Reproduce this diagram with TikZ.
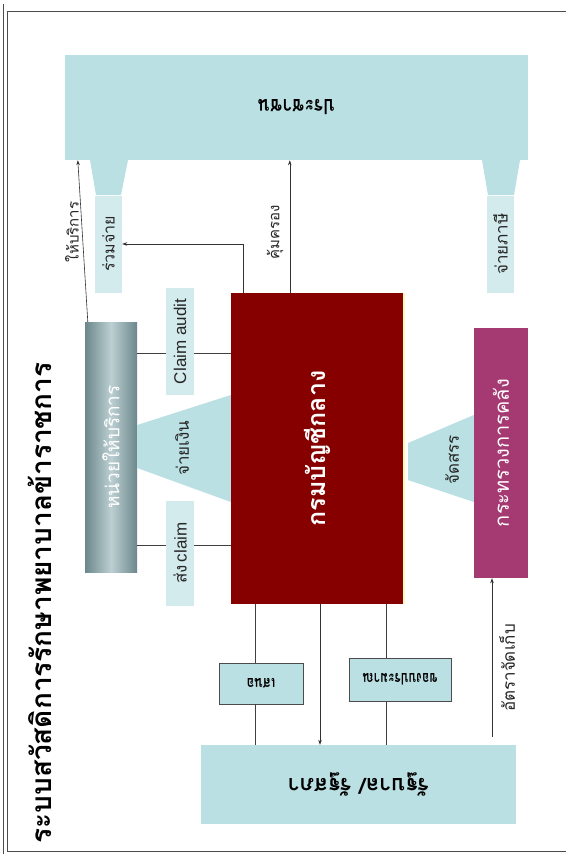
\documentclass[tikz,border=0pt]{standalone}
\usepackage{fontspec}
\setmainfont{Liberation Sans}
\newfontfamily\thai[Script=Thai]{Loma}
\usetikzlibrary{arrows.meta}
\definecolor{lb}{HTML}{BBE0E3}
\definecolor{tealbox}{HTML}{86A9AE}
\definecolor{cgdred}{HTML}{860000}
\definecolor{mofc}{HTML}{A53A73}
\newcommand\tsz[1]{\fontsize{#1}{#1}\selectfont}
\tikzset{
  arr/.style={-{Stealth[length=5pt,width=3.5pt]}, line width=0.6pt, draw=black!80},
  ln/.style={line width=0.6pt, draw=black!75},
  band/.style={fill=lb!65, inner sep=0pt, text=black!85},
  lbl/.style={text=black!85, inner sep=1pt},
  sbox/.style={draw=black!70, line width=0.8pt, fill=lb, inner sep=0pt},
  bigbox/.style={inner sep=0pt},
}
\begin{document}
\begin{tikzpicture}[x=1pt,y=-1pt]
\useasboundingbox (0,0) rectangle (566,854);
\fill[white] (0,0) rectangle (566,854);
% frame
\draw[black!70, line width=0.8pt] (3,4) -- (3,854);
\draw[black!70, line width=0.8pt] (566,11.5) -- (7.5,11.5) -- (7.5,851) -- (566,851);
% title
\node[lbl, text=black] (title) at (40,603) {\rotatebox{90}{\thai\bfseries\tsz{28}ระบบสวัสดิการรักษาพยาบาลข้าราชการ}};
% main boxes
\node[bigbox, fill=lb, minimum width=463pt, minimum height=105pt] (pub) at (296.5,107.5) {\rotatebox{180}{\scalebox{0.85}[1]{\thai\bfseries\tsz{21}ประชาชน}}};
\node[bigbox, minimum width=52pt, minimum height=250pt, left color=tealbox!80!black, right color=tealbox!80!black, middle color=tealbox!55!white, text=white] (hosp) at (111,447) {\rotatebox{90}{\thai\tsz{19}หน่วยให้บริการ}};
\node[bigbox, fill=cgdred, minimum width=173pt, minimum height=311pt, text=white] (cgd) at (317.5,448.5) {\rotatebox{90}{\thai\bfseries\tsz{25}กรมบัญชีกลาง}};
\draw[line width=2pt, draw=yellow!30] (cgd.north east) -- (cgd.south east);
\node[bigbox, fill=mofc, minimum width=54pt, minimum height=250pt, text=white] (mof) at (501,453) {\rotatebox{90}{\thai\tsz{20}กระทรวงการคลัง}};
\node[bigbox, fill=lb, minimum width=315pt, minimum height=79pt] (gov) at (358.5,784.5) {\rotatebox{180}{\thai\bfseries\tsz{22}รัฐบาล/ รัฐสภา}};
\node[sbox, minimum width=84pt, minimum height=41pt] (sm1) at (261,683.5) {\rotatebox{180}{\scalebox{0.8}[1]{\thai\bfseries\tsz{16}เสนอ}}};
\node[sbox, minimum width=102pt, minimum height=43pt] (sm2) at (400,679.5) {\rotatebox{180}{\scalebox{0.75}[1]{\thai\bfseries\tsz{16}ของบประมาณ}}};
% block arrows (pillars) under the public box
\fill[lb] (90,160) -- (128,160) -- (121,195) -- (96,195) -- cycle;
\fill[lb] (482,160) -- (520,160) -- (514,195) -- (488,195) -- cycle;
\node[band, minimum width=27pt, minimum height=97pt] (rj) at (108.5,244) {\rotatebox{90}{\thai\tsz{16}ร่วมจ่าย}};
\node[band, minimum width=27pt, minimum height=97pt] (tax) at (500.5,244) {\rotatebox{90}{\thai\tsz{17}จ่ายภาษี}};
% pay / allocate wedges
\fill[lb] (cgd.west |- 0,395) -- (cgd.west |- 0,502) -- (hosp.east |- 0,468) -- (hosp.east |- 0,425) -- cycle;
\node[lbl] (pay) at (182,448) {\rotatebox{90}{\thai\tsz{17}จ่ายเงิน}};
\fill[lb] (mof.west |- 0,415) -- (mof.west |- 0,502) -- (408,480) -- (408,443) -- cycle;
\node[lbl] (alloc) at (452,460) {\rotatebox{90}{\thai\tsz{17}จัดสรร}};
% connectors to the public
\draw[arr] ([xshift=3pt]hosp.north west) -- ([xshift=13pt]pub.south west);
\node[lbl] (serv) at (72,232) {\rotatebox{90}{\thai\tsz{15}ให้บริการ}};
\draw[arr] ([xshift=12pt]cgd.north west) |- (rj.east);
\draw[arr] ([xshift=59pt]cgd.north west) -- ([xshift=59pt]cgd.north west |- pub.south);
\node[lbl] (prot) at (275,232) {\rotatebox{90}{\thai\tsz{15}คุ้มครอง}};
% claim lines
\draw[ln] ([yshift=94pt]hosp.east) -- ([yshift=94pt]hosp.east -| cgd.west);
\draw[ln] ([yshift=-98pt]hosp.east) -- ([yshift=-98pt]hosp.east -| cgd.west);
\node[band, minimum width=28pt, minimum height=107pt] (audit) at (180,341.5) {\rotatebox{90}{\tsz{17}Claim audit}};
\node[band, minimum width=28pt, minimum height=105pt] (send) at (180,553) {\rotatebox{90}{\thai\tsz{17}ส่ง\,{\fontspec{Liberation Sans}claim}}};
% lines to government
\draw[ln] ([xshift=24pt]cgd.south west) -- ([xshift=24pt]cgd.south west |- sm1.north);
\draw[ln] ([xshift=24pt]cgd.south west |- sm1.south) -- ([xshift=24pt]cgd.south west |- gov.north);
\draw[arr] ([xshift=2.5pt]cgd.south) -- ([xshift=2.5pt]cgd.south |- gov.north);
\draw[ln] ([xshift=155pt]cgd.south west) -- ([xshift=155pt]cgd.south west |- sm2.north);
\draw[ln] ([xshift=155pt]cgd.south west |- sm2.south) -- ([xshift=155pt]cgd.south west |- gov.north);
% collection rate
\coordinate (rate0) at (492,737);
\draw[arr] (rate0) -- (rate0 |- mof.south);
\node[lbl] (rate) at (507,668) {\rotatebox{90}{\thai\tsz{17}อัตราจัดเก็บ}};
\end{tikzpicture}
\end{document}
